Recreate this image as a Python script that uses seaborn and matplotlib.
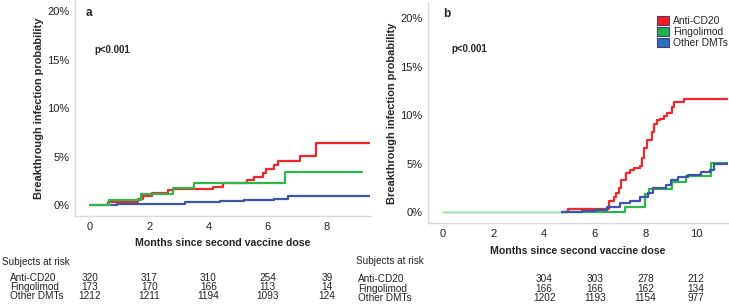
import matplotlib
matplotlib.use("Agg")
import matplotlib.pyplot as plt
import seaborn as sns
import pandas as pd
from matplotlib.patches import Patch
from matplotlib.transforms import blended_transform_factory

# ---------------- data ----------------
groups = ["Anti-CD20", "Fingolimod", "Other DMTs"]
colors = {"Anti-CD20": "#f0282d", "Fingolimod": "#2db84b", "Other DMTs": "#3f54ab"}
legend_colors = ["#ff1a1a", "#22b24c", "#2e6fba"]

# Panel a (step curves: time in months, cumulative %)
a_cd20_t = [0, 0.6, 1.63, 1.8, 2.08, 2.65, 2.8, 4.17, 4.48, 5.3, 5.55, 5.85, 5.95, 6.2, 6.35, 7.1, 7.65, 9.46]
a_cd20_y = [0, 0.34, 0.6, 0.9, 1.24, 1.5, 1.6, 1.9, 2.24, 2.55, 2.9, 3.3, 3.75, 4.1, 4.5, 5.1, 6.45, 6.45]
a_fing_t = [0, 0.65, 1.72, 2.8, 3.53, 6.6, 9.2]
a_fing_y = [0, 0.55, 1.15, 1.75, 2.3, 3.45, 3.45]
a_oth_t = [0.7, 0.9, 2.0, 3.2, 4.4, 5.2, 6.2, 6.7, 9.46]
a_oth_y = [0, 0.08, 0.15, 0.3, 0.4, 0.55, 0.65, 0.9, 0.9]

# Panel b
b_pre_t = [0, 4.7]
b_pre_y = [0, 0]
b_cd20_t = [4.7, 4.95, 6.56, 6.75, 6.85, 6.95, 7.04, 7.22, 7.41, 7.55, 7.78, 7.88, 7.94, 8.07,
            8.27, 8.34, 8.47, 8.6, 8.73, 8.87, 9.06, 9.13, 9.52, 11.27]
b_cd20_y = [0, 0.35, 1.1, 1.6, 2.0, 2.5, 3.3, 4.0, 4.3, 4.5, 4.7, 5.6, 6.6, 7.4,
            8.3, 9.1, 9.5, 9.6, 9.9, 10.2, 10.8, 11.3, 11.7, 11.7]
b_fing_t = [4.7, 7.2, 8.0, 8.15, 9.05, 9.6, 10.6, 11.27]
b_fing_y = [0, 0.55, 1.9, 2.4, 3.05, 3.75, 5.05, 5.05]
b_oth_t = [4.7, 5.5, 6.0, 6.5, 7.0, 7.4, 7.8, 8.1, 8.3, 8.8, 9.0, 9.3, 9.7, 10.2, 10.55, 10.7, 11.27]
b_oth_y = [0, 0.1, 0.25, 0.5, 0.9, 1.1, 1.6, 2.0, 2.45, 2.8, 3.3, 3.6, 3.85, 4.1, 4.3, 5.0, 5.05]

# Risk tables
a_risk_times = [0, 2, 4, 6, 8]
a_risk_cd20 = [320, 317, 310, 254, 39]
a_risk_fing = [173, 170, 166, 113, 14]
a_risk_oth = [1212, 1211, 1194, 1093, 124]
b_risk_times = [4, 6, 8, 10]
b_risk_cd20 = [304, 303, 278, 212]
b_risk_fing = [166, 166, 162, 134]
b_risk_oth = [1202, 1193, 1154, 977]

y_ticks = [0, 5, 10, 15, 20]
y_ticklabels = ["0%", "5%", "10%", "15%", "20%"]
a_xticks = [0, 2, 4, 6, 8]
b_xticks = [0, 2, 4, 6, 8, 10]


def long_df(series):
    rows = []
    for g, (t, y) in zip(groups, series):
        for ti, yi in zip(t, y):
            rows.append({"month": ti, "pct": yi, "group": g})
    return pd.DataFrame(rows)


df_a = long_df([(a_cd20_t, a_cd20_y), (a_fing_t, a_fing_y), (a_oth_t, a_oth_y)])
df_b = long_df([(b_cd20_t, b_cd20_y), (b_fing_t, b_fing_y), (b_oth_t, b_oth_y)])

sns.set_theme(style="white")
plt.rcParams["font.family"] = ["Liberation Sans", "DejaVu Sans"]

fig = plt.figure(figsize=(7.29, 3.06), dpi=100)
ax_a = fig.add_axes([75 / 729, 1 - 216 / 306, (370 - 75) / 729, 216 / 306])
ax_b = fig.add_axes([428 / 729, 1 - 223 / 306, (728 - 428) / 729, (223 - 3) / 306])

spine_c = "#d9d9d9"


def style(ax, xlim, ylim, xticks):
    ax.set_xlim(*xlim)
    ax.set_ylim(*ylim)
    ax.set_yticks(y_ticks)
    ax.set_yticklabels(y_ticklabels)
    ax.set_xticks(xticks)
    ax.tick_params(axis="y", length=3, width=0.8, color="#555555", labelsize=8, pad=1, labelcolor="#222222")
    ax.tick_params(axis="x", length=0, labelsize=8, pad=4, labelcolor="#222222")
    for s in ["top", "right"]:
        ax.spines[s].set_visible(False)
    for s in ["left", "bottom"]:
        ax.spines[s].set_color(spine_c)
        ax.spines[s].set_linewidth(1.0)
    ax.set_ylabel("Breakthrough infection probability", fontsize=7.9, fontweight="bold", labelpad=2)
    ax.set_xlabel("Months since second vaccine dose", fontsize=7.6, fontweight="bold", labelpad=5)
    ax.grid(False)


sns.lineplot(data=df_a, x="month", y="pct", hue="group", palette=colors, drawstyle="steps-post",
             estimator=None, sort=False, linewidth=1.6, legend=False, ax=ax_a)
ax_b.plot(b_pre_t, b_pre_y, color="#b5e4bd", linewidth=1.8)
sns.lineplot(data=df_b, x="month", y="pct", hue="group", palette=colors, drawstyle="steps-post",
             estimator=None, sort=False, linewidth=1.6, legend=False, ax=ax_b)

style(ax_a, (-0.507, 9.46), (-1.14, 21.18), a_xticks)
style(ax_b, (-0.593, 11.27), (-1.13, 21.55), b_xticks)

ax_a.text(86 / 729, 1 - 13 / 306, "a", transform=fig.transFigure, fontsize=8.5, fontweight="bold", va="center")
ax_b.text(443 / 729, 1 - 14 / 306, "b", transform=fig.transFigure, fontsize=8.5, fontweight="bold", va="center")
ax_a.text(94 / 729, 1 - 50 / 306, "p<0.001", transform=fig.transFigure, fontsize=7, fontweight="bold", va="center")
ax_b.text(451 / 729, 1 - 49 / 306, "p<0.001", transform=fig.transFigure, fontsize=7, fontweight="bold", va="center")

handles = [Patch(facecolor=c, edgecolor="#3d3d80", linewidth=0.8) for c in legend_colors]
ax_b.legend(handles, groups, loc="upper right", bbox_to_anchor=(1.02, 0.97), frameon=False, fontsize=7.4,
            handlelength=1.1, handleheight=0.95, handletextpad=0.4, labelspacing=0.12, borderaxespad=0.2)

# Risk tables
def risk_table(ax, label_x, title_y, rows_y, times, rows):
    tr = blended_transform_factory(ax.transData, fig.transFigure)
    fig.text(label_x[0] / 729, 1 - title_y / 306, "Subjects at risk", fontsize=7.2, va="center", color="#222222")
    for name, vals, yy in zip(groups, rows, rows_y):
        fig.text(label_x[1] / 729, 1 - yy / 306, name, fontsize=7.2, va="center", color="#222222")
        for t, v in zip(times, vals):
            ax.text(t, 1 - yy / 306, str(v), transform=tr, fontsize=7.2, va="center", ha="center",
                    color="#222222", clip_on=False)


risk_table(ax_a, (2, 10), 262, [278, 287, 296], a_risk_times, [a_risk_cd20, a_risk_fing, a_risk_oth])
risk_table(ax_b, (356, 358), 261, [279, 289, 298], b_risk_times, [b_risk_cd20, b_risk_fing, b_risk_oth])

fig.savefig("out.png", dpi=100)
